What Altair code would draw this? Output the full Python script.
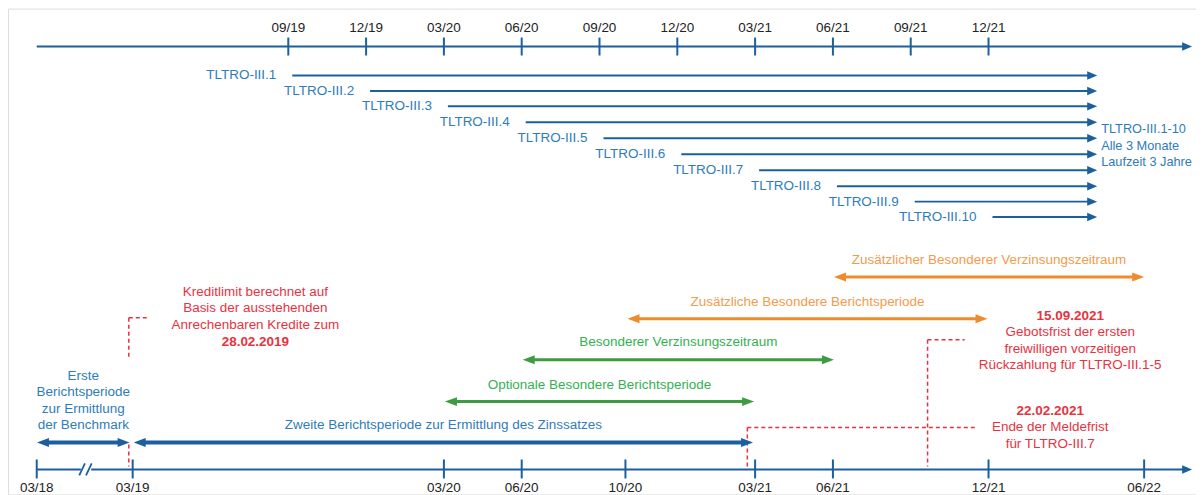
import altair as alt
import pandas as pd

W, H = 1191, 487
# x: months counted so that 03/19 = 3 (Jan 2019 = 1); 26 px per month
X_SCALE = alt.Scale(domain=[-47 / 26, (W - 47) / 26], nice=False, zero=False)
# y: layout rows (row 8 at top of the chart area)
Y_SCALE = alt.Scale(domain=[8, 8 + H], range=[0, H], nice=False, zero=False)

FONT = "Liberation Sans"
FS = 13.5
BLUE_LINE = "#1C5F9F"
BLUE_TEXT = "#2E7CB9"
GREEN_LINE = "#3E9C40"
GREEN_TEXT = "#34B053"
ORANGE_LINE = "#EF8B2D"
ORANGE_TEXT = "#F39B4C"
RED = "#E8323F"
BLACK = "#222222"

# ---------------- data ----------------
top_tick_labels = ["09/19", "12/19", "03/20", "06/20", "09/20", "12/20", "03/21", "06/21", "09/21", "12/21"]
top_tick_months = [9, 12, 15, 18, 21, 24, 27, 30, 33, 36]
bottom_tick_labels = ["03/18", "03/19", "03/20", "06/20", "10/20", "03/21", "06/21", "12/21", "06/22"]
bottom_tick_months = [-0.7, 3, 15, 18, 22, 27, 30, 36, 42]

axis_start, axis_end = -0.7, 43.85
top_axis_row, bottom_axis_row = 46, 470
axis_break_month = 1.2

tltro_names = [f"TLTRO-III.{i}" for i in range(1, 11)]
tltro_start = [9, 12, 15, 18, 21, 24, 27, 30, 33, 36]
tltro_end = 40.19
tltro_rows = [75, 90.5, 106, 122, 138, 154, 170, 186, 201.5, 217]
note_lines = ["TLTRO-III.1-10", "Alle 3 Monate", "Laufzeit 3 Jahre"]
note_rows = [129, 145.5, 162]

period_names = ["Zusätzlicher Besonderer Verzinsungszeitraum",
                "Zusätzliche Besondere Berichtsperiode",
                "Besonderer Verzinsungszeitraum",
                "Optionale Besondere Berichtsperiode",
                "Zweite Berichtsperiode zur Ermittlung des Zinssatzes",
                ""]
period_start = [30.04, 22.08, 18.04, 15.04, 3.04, -0.69]
period_end = [42.0, 35.96, 30.04, 26.96, 26.92, 2.88]
period_rows = [277, 319, 360, 402, 443, 443]
period_label_rows = [260, 302, 342.5, 385, 425, 425]
period_kind = ["orange", "orange", "green", "green", "blue", "blue"]

erste_lines = ["Erste", "Berichtsperiode", "zur Ermittlung", "der Benchmark"]
erste_rows = [376, 392.5, 409, 425]

red_groups = [
    (7.73, ["Kreditlimit berechnet auf", "Basis der ausstehenden", "Anrechenbaren Kredite zum", "28.02.2019"],
     [292, 308.5, 325, 342], [False, False, False, True]),
    (39.15, ["15.09.2021", "Gebotsfrist der ersten", "freiwilligen vorzeitigen", "Rückzahlung für TLTRO-III.1-5"],
     [316, 332.5, 349, 365.5], [True, False, False, False]),
    (38.38, ["22.02.2021", "Ende der Meldefrist", "für TLTRO-III.7"],
     [411, 427.5, 444], [True, False, False]),
]

# red dashed leader lines (month1, month2, row1, row2)
dash_m1 = [2.85, 2.85, 2.85, 26.7, 26.7, 33.65, 33.65]
dash_m2 = [2.85, 3.65, 2.85, 26.7, 35.54, 33.65, 35.08]
dash_r1 = [318, 318, 445, 428, 428, 340, 340]
dash_r2 = [360, 318, 467, 467, 428, 467, 340]

# ---------------- tables ----------------
line_col = {"blue": BLUE_LINE, "green": GREEN_LINE, "orange": ORANGE_LINE}
text_col = {"blue": BLUE_TEXT, "green": GREEN_TEXT, "orange": ORANGE_TEXT}

axes_df = pd.DataFrame({"m1": [axis_start, axis_start], "m2": [axis_end - 0.25, axis_end - 0.25],
                        "r": [top_axis_row, bottom_axis_row]})
ticks_df = pd.DataFrame({
    "m": top_tick_months + bottom_tick_months,
    "r1": [37] * len(top_tick_months) + [460] * len(bottom_tick_months),
    "r2": [55] * len(top_tick_months) + [479] * len(bottom_tick_months),
})
tltro_df = pd.DataFrame({"name": tltro_names, "m1": tltro_start, "m2": [tltro_end] * 10, "r": tltro_rows})
period_df = pd.DataFrame({
    "m1": period_start, "m2": period_end, "r": period_rows,
    "color": [line_col[k] for k in period_kind],
    "sw": [4 if k == "blue" else 3 for k in period_kind],
})
dash_df = pd.DataFrame({"m1": dash_m1, "m2": dash_m2, "r1": dash_r1, "r2": dash_r2})

center_rows, bold_rows = [], []
for lab, m in zip(top_tick_labels, top_tick_months):
    center_rows.append({"t": lab, "m": m, "r": 27, "c": BLACK})
for lab, m in zip(bottom_tick_labels, bottom_tick_months):
    center_rows.append({"t": lab, "m": m, "r": 489, "c": BLACK})
for name, a, b, lr, k in zip(period_names, period_start, period_end, period_label_rows, period_kind):
    if name:
        center_rows.append({"t": name, "m": (a + b) / 2, "r": lr, "c": text_col[k]})
for lab, r in zip(erste_lines, erste_rows):
    center_rows.append({"t": lab, "m": (period_start[5] + period_end[5]) / 2, "r": r, "c": BLUE_TEXT})
for m, lines, rows, bolds in red_groups:
    for lab, r, b in zip(lines, rows, bolds):
        (bold_rows if b else center_rows).append({"t": lab, "m": m, "r": r, "c": RED})
center_df = pd.DataFrame(center_rows)
bold_df = pd.DataFrame(bold_rows)
note_df = pd.DataFrame({"t": note_lines, "m": [tltro_end] * 3, "r": note_rows})

head_right_df = pd.concat([
    pd.DataFrame({"m": [axis_end, axis_end], "r": [top_axis_row, bottom_axis_row], "c": [BLUE_LINE] * 2, "k": ["ax"] * 2}),
    pd.DataFrame({"m": [tltro_end] * 10, "r": tltro_rows, "c": [BLUE_LINE] * 10, "k": ["tl"] * 10}),
])
head_per_right = pd.DataFrame({"m": period_end, "r": period_rows, "c": period_df["color"]})
head_per_left = pd.DataFrame({"m": period_start, "r": period_rows, "c": period_df["color"]})

X = lambda f: alt.X(f"{f}:Q", scale=X_SCALE, axis=None)
X2 = lambda f: alt.X2(f"{f}:Q")
Y = lambda f: alt.Y(f"{f}:Q", scale=Y_SCALE, axis=None)
Y2 = lambda f: alt.Y2(f"{f}:Q")

layers = []
# axis lines
layers.append(alt.Chart(axes_df).mark_rule(color=BLUE_LINE, strokeWidth=2).encode(x=X("m1"), x2=X2("m2"), y=Y("r")))
# axis ticks
layers.append(alt.Chart(ticks_df).mark_rule(color=BLUE_LINE, strokeWidth=2).encode(x=X("m"), y=Y("r1"), y2=Y2("r2")))
# axis break
brk = pd.DataFrame({"m1": [axis_break_month - 0.2], "m2": [axis_break_month + 0.2], "r": [bottom_axis_row]})
layers.append(alt.Chart(brk).mark_rule(color="white", strokeWidth=5).encode(x=X("m1"), x2=X2("m2"), y=Y("r")))
slash = pd.DataFrame({"m1": [axis_break_month - 0.26, axis_break_month - 0.0],
                      "m2": [axis_break_month - 0.04, axis_break_month + 0.22],
                      "r1": [bottom_axis_row + 6, bottom_axis_row + 6],
                      "r2": [bottom_axis_row - 6, bottom_axis_row - 6]})
layers.append(alt.Chart(slash).mark_rule(color=BLUE_LINE, strokeWidth=1.8).encode(
    x=X("m1"), x2=X2("m2"), y=Y("r1"), y2=Y2("r2")))
# TLTRO lines
layers.append(alt.Chart(tltro_df).mark_rule(color=BLUE_LINE, strokeWidth=2, xOffset=4, x2Offset=-6).encode(
    x=X("m1"), x2=X2("m2"), y=Y("r")))
# period arrows
layers.append(alt.Chart(period_df).mark_rule(xOffset=8, x2Offset=-8).encode(
    x=X("m1"), x2=X2("m2"), y=Y("r"),
    color=alt.Color("color:N", scale=None), strokeWidth=alt.StrokeWidth("sw:Q", scale=None)))
# dashed leaders
layers.append(alt.Chart(dash_df).mark_rule(color=RED, strokeWidth=1.5, strokeDash=[4, 3]).encode(
    x=X("m1"), x2=X2("m2"), y=Y("r1"), y2=Y2("r2")))
# arrowheads
layers.append(alt.Chart(head_right_df).mark_point(
    shape="M-2,-0.85L0,0L-2,0.85Z", filled=True, opacity=1, size=100, strokeWidth=0).encode(
    x=X("m"), y=Y("r"), color=alt.Color("c:N", scale=None)))
layers.append(alt.Chart(head_per_right).mark_point(
    shape="M-2,-0.75L0,0L-2,0.75Z", filled=True, opacity=1, size=144, strokeWidth=0).encode(
    x=X("m"), y=Y("r"), color=alt.Color("c:N", scale=None)))
layers.append(alt.Chart(head_per_left).mark_point(
    shape="M2,-0.75L0,0L2,0.75Z", filled=True, opacity=1, size=144, strokeWidth=0).encode(
    x=X("m"), y=Y("r"), color=alt.Color("c:N", scale=None)))
# texts
layers.append(alt.Chart(center_df).mark_text(font=FONT, fontSize=FS, align="center", baseline="middle").encode(
    x=X("m"), y=Y("r"), text="t:N", color=alt.Color("c:N", scale=None)))
layers.append(alt.Chart(bold_df).mark_text(font=FONT, fontSize=FS, fontWeight="bold", align="center", baseline="middle").encode(
    x=X("m"), y=Y("r"), text="t:N", color=alt.Color("c:N", scale=None)))
layers.append(alt.Chart(tltro_df).mark_text(font=FONT, fontSize=FS, align="right", baseline="middle", dx=-12, color=BLUE_TEXT).encode(
    x=X("m1"), y=Y("r"), text="name:N"))
layers.append(alt.Chart(note_df).mark_text(font=FONT, fontSize=12.8, align="left", baseline="middle", dx=4, color=BLUE_TEXT).encode(
    x=X("m"), y=Y("r"), text="t:N"))

chart = alt.layer(*layers).properties(
    width=W, height=H, padding=0, autosize=alt.AutoSizeParams(type="none")
).configure_view(stroke="#A6A6A6", strokeWidth=1.5).configure(background="white")

chart.save("out.html", embed_options={"renderer": "svg", "actions": False})
